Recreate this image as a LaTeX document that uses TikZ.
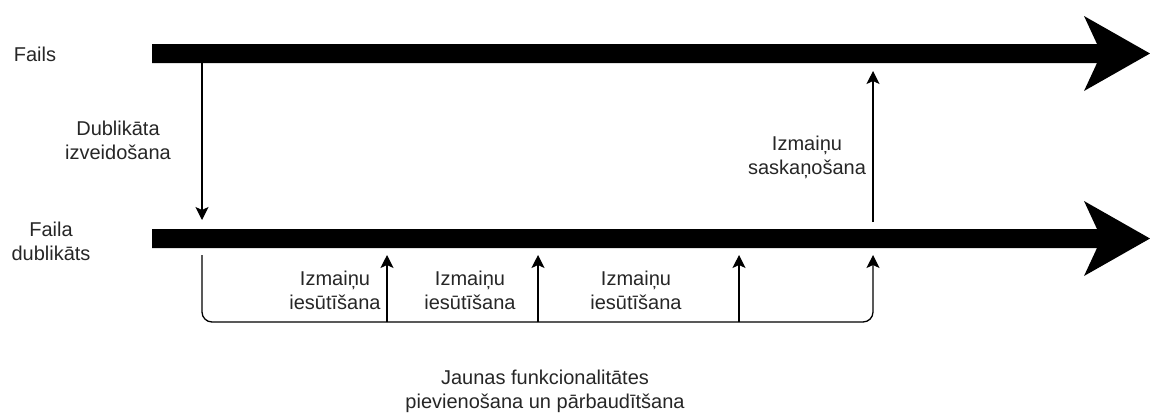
\documentclass[tikz,border=0pt]{standalone}
\usepackage{fontspec}
\setmainfont{Liberation Sans}
\usetikzlibrary{arrows.meta}
\begin{document}
\begin{tikzpicture}[x=1pt,y=-1pt,
  lbl/.style={font=\fontsize{20}{24}\selectfont, align=center, inner sep=0pt, text=black!85},
  thinarrow/.style={line width=1.3pt, -{Stealth[length=13pt,width=13pt,inset=3pt]}},
  bigarrow/.style={fill=black}]
\useasboundingbox (0,0) rectangle (1150,413);
% thick timelines
\fill[bigarrow] (152,44) -- (1097,44) -- (1084,16) -- (1150,53.5) -- (1084,91) -- (1097,63) -- (152,63) -- cycle;
\fill[bigarrow] (152,229) -- (1097,229) -- (1084,201) -- (1150,238.5) -- (1084,276) -- (1097,248) -- (152,248) -- cycle;
% labels
\node[lbl] (fails) at (35,54) {Fails};
\node[lbl] (dup) at (51,241) {Faila\\dublikāts};
\node[lbl] (create) at (118,140) {Dublikāta\\izveidošana};
\node[lbl] (sync) at (807,157) {Izmaiņu\\saskaņošana};
\node[lbl] (c1) at (335,290) {Izmaiņu\\iesūtīšana};
\node[lbl] (c2) at (470,290) {Izmaiņu\\iesūtīšana};
\node[lbl] (c3) at (636,290) {Izmaiņu\\iesūtīšana};
\node[lbl] (feat) at (545,391) {Jaunas funkcionalitātes\\pievienošana un pārbaudītšana};
% coordinates
\coordinate (dfrom) at (202,63);
\coordinate (dto) at (202,220);
\coordinate (sfrom) at (873,222);
\coordinate (sto) at (873,71);
\coordinate (bs) at (202,255);
\coordinate (bc) at (873,322);
\coordinate (bt) at (873,255);
\coordinate (u1b) at (387,322);
\coordinate (u1t) at (387,255);
\coordinate (u2b) at (538,322);
\coordinate (u2t) at (538,255);
\coordinate (u3b) at (739,322);
\coordinate (u3t) at (739,255);
% connectors
\draw[thinarrow] (dfrom) -- (dto);
\draw[thinarrow] (sfrom) -- (sto);
\draw[thinarrow, rounded corners=10pt] (bs) |- (bc) -- (bt);
\draw[thinarrow] (u1b) -- (u1t);
\draw[thinarrow] (u2b) -- (u2t);
\draw[thinarrow] (u3b) -- (u3t);
\end{tikzpicture}
\end{document}
